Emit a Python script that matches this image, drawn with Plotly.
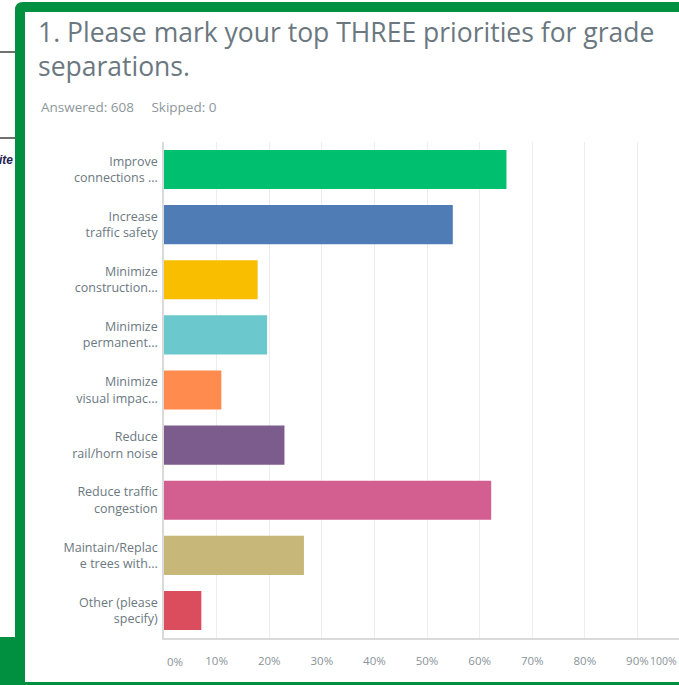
import plotly.graph_objects as go

# survey answers, top to bottom
categories = [
    "Improve<br>connections ...",
    "Increase<br>traffic safety",
    "Minimize<br>construction...",
    "Minimize<br>permanent...",
    "Minimize<br>visual impac...",
    "Reduce<br>rail/horn noise",
    "Reduce traffic<br>congestion",
    "Maintain/Replac<br>e trees with...",
    "Other (please<br>specify)",
]
percent = [65.1, 54.9, 17.8, 19.6, 10.9, 22.9, 62.2, 26.6, 7.1]
bar_colors = ["#00BF6F", "#507CB6", "#F9BE00", "#6BC8CD", "#FF8B4F",
              "#7B5C8D", "#D25F90", "#C7B879", "#DB4D5C"]
tick_vals = [10, 20, 30, 40, 50, 60, 70, 80, 90]
tick_text = ["10%", "20%", "30%", "40%", "50%", "60%", "70%", "80%", "90%"]

W, H = 679, 685
ML, MR, MT, MB = 164, 0, 142, 47
PW, PH = W - ML - MR, H - MT - MB

GREEN = "#00903F"
GREY_TXT = "#6B787F"
TICK_GREY = "#8A9399"
FONT = "Open Sans"


def px(x):
    return (x - ML) / PW


def py(y):
    return (H - MB - y) / PH


fig = go.Figure()
fig.add_trace(go.Bar(
    x=percent, y=categories, orientation="h",
    marker=dict(color=bar_colors, line=dict(width=0)),
    hoverinfo="skip",
))

shapes = []
# green frame with rounded top-left corner
r = 8
shapes.append(dict(
    type="path", xref="paper", yref="paper", layer="below",
    path=(f"M {px(15)},{py(685)} L {px(15)},{py(2 + r)} "
          f"Q {px(15)},{py(2)} {px(15 + r)},{py(2)} "
          f"L {px(700)},{py(2)} L {px(700)},{py(685)} Z"),
    fillcolor=GREEN, line=dict(width=0)))
shapes.append(dict(
    type="rect", xref="paper", yref="paper", layer="below",
    x0=px(25), x1=px(700), y0=py(682), y1=py(12),
    fillcolor="white", line=dict(width=0)))
# bits of the page behind the frame
shapes.append(dict(type="rect", xref="paper", yref="paper", layer="below",
                   x0=px(0), x1=px(15), y0=py(685), y1=py(637),
                   fillcolor=GREEN, line=dict(width=0)))
for yy in [52, 138]:
    shapes.append(dict(type="line", xref="paper", yref="paper", layer="below",
                       x0=px(0), x1=px(15), y0=py(yy), y1=py(yy),
                       line=dict(color="#222222", width=1.3)))

annotations = [
    dict(text="1. Please mark your top THREE priorities for grade<br>separations.",
         xref="paper", yref="paper", x=px(36), y=py(12),
         xanchor="left", yanchor="top", align="left", showarrow=False,
         font=dict(family=FONT, size=26.5, color=GREY_TXT)),
    dict(text="Answered: 608" + "&nbsp;" * 5 + "Skipped: 0",
         xref="paper", yref="paper", x=px(39), y=py(107),
         xanchor="left", yanchor="middle", showarrow=False,
         font=dict(family=FONT, size=13.5, color="#8E979C")),
    dict(text="<i><b>ite</b></i>", xref="paper", yref="paper",
         x=px(15), y=py(160), xanchor="right", yanchor="middle",
         showarrow=False, font=dict(family="Liberation Sans", size=12, color="#1E2350")),
    dict(text="0%", xref="x", yref="paper", x=0, y=py(661),
         xanchor="left", yanchor="middle", showarrow=False, xshift=1,
         font=dict(family=FONT, size=11.5, color=TICK_GREY)),
    dict(text="100%", xref="x domain", yref="paper", x=1, y=py(661),
         xanchor="right", yanchor="middle", showarrow=False,
         font=dict(family=FONT, size=10.5, color=TICK_GREY)),
]

fig.update_layout(
    width=W, height=H,
    margin=dict(l=ML, r=MR, t=MT, b=MB, autoexpand=False),
    paper_bgcolor="white", plot_bgcolor="rgba(0,0,0,0)",
    showlegend=False, bargap=0.29,
    shapes=shapes, annotations=annotations,
)
fig.update_xaxes(range=[0, 97.9], tickvals=tick_vals, ticktext=tick_text,
                 showgrid=True, gridcolor="#EDEDED", gridwidth=1,
                 zeroline=False, showline=True, linecolor="#DADADA", linewidth=1.5,
                 ticks="", ticklabelstandoff=11,
                 tickfont=dict(family=FONT, size=11.5, color=TICK_GREY),
                 fixedrange=True)
fig.update_yaxes(autorange="reversed", showgrid=False, zeroline=False,
                 showline=True, linecolor="#DADADA", linewidth=1.5,
                 ticks="", ticklabelstandoff=2,
                 tickfont=dict(family=FONT, size=12.5, color=GREY_TXT),
                 fixedrange=True)

fig.write_html("out.html", config=dict(displayModeBar=False),
               post_script="document.body.style.margin='0';"
                           "document.body.style.overflow='hidden';")
